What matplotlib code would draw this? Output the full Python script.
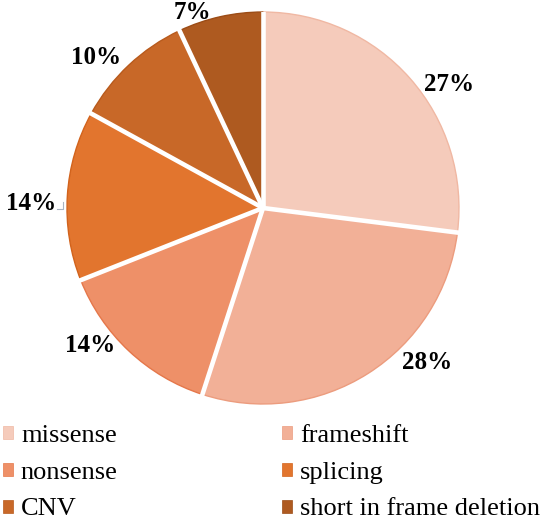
import matplotlib.pyplot as plt
from matplotlib.patches import Patch
import numpy as np

categories = ['missense', 'frameshift', 'nonsense', 'splicing', 'CNV', 'short in frame deletion']
percents = [27, 28, 14, 14, 10, 7]
colors = ['#F5CBBB', '#F2B097', '#EE9068', '#E2752E', '#C86828', '#AE5A20']
edge_colors = ['#F0B8A3', '#EC9C7E', '#E5774A', '#D2631C', '#B85A1C', '#9C4C16']

plt.rcParams['font.family'] = ['Liberation Serif', 'DejaVu Serif']

fig = plt.figure(figsize=(5.46, 5.2), dpi=100)
ax = fig.add_axes([0.1227, 0.2231, 0.7179, 0.7538])

wedges, _ = ax.pie(percents, colors=colors, startangle=90, counterclock=False,
                   radius=1.0, wedgeprops=dict(linewidth=1.0))
for w, ec in zip(wedges, edge_colors):
    w.set_edgecolor(ec)

# white gaps between slices
for w in wedges:
    a = np.deg2rad(w.theta1)
    ax.plot([0, 1.03 * np.cos(a)], [0, 1.03 * np.sin(a)], color='white',
            linewidth=3.3, solid_capstyle='butt', zorder=3)

# label placement: (angle offset from wedge middle in degrees, radial distance)
label_pos = [(-7.9, 1.138), (14.4, 1.148), (-8.4, 1.126), (2.6, 1.181), (4.7, 1.148), (7.4, 1.059)]
for w, p, (da, r) in zip(wedges, percents, label_pos):
    mid = np.deg2rad((w.theta1 + w.theta2) / 2 + da)
    ax.text(r * np.cos(mid), r * np.sin(mid), f'{p}%', ha='center', va='center',
            fontsize=18, fontweight='bold')

# small leader line on the splicing label
ax.plot([-1.051, -1.020, -1.020], [-0.007, -0.007, 0.031], color='#A9B4C2',
        linewidth=0.8, clip_on=False)

ax.set_xlim(-1, 1)
ax.set_ylim(-1, 1)
ax.set_aspect('equal')
ax.axis('off')

for col, x0 in zip([[0, 2, 4], [1, 3, 5]], [3 / 546, 282 / 546]):
    handles = [Patch(facecolor=colors[i], edgecolor=edge_colors[i], linewidth=0.5) for i in col]
    labels = [categories[i] for i in col]
    leg = fig.legend(handles, labels, loc='center left', bbox_to_anchor=(x0, 0.091),
                     frameon=False, fontsize=19, handlelength=0.38, handleheight=0.38,
                     handletextpad=0.3, labelspacing=0.56, borderaxespad=0, borderpad=0)

fig.savefig('out.png', dpi=100)
